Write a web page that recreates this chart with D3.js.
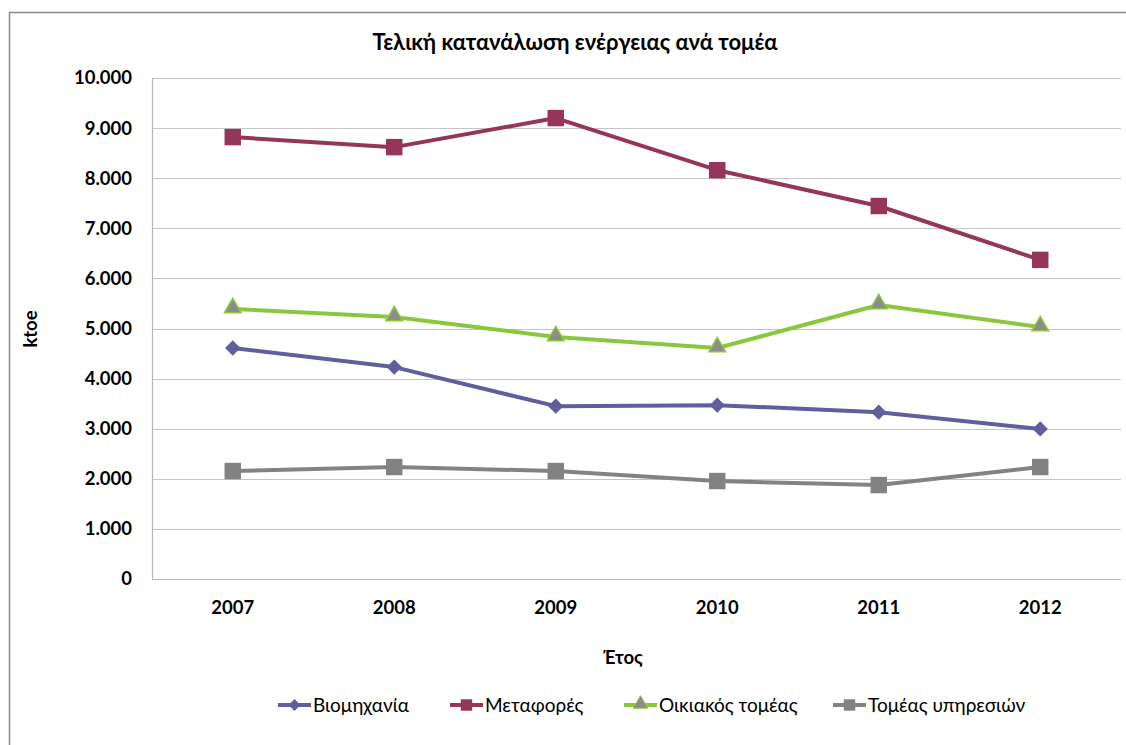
<!DOCTYPE html>
<html>
<head>
<meta charset="utf-8">
<script src="https://cdn.jsdelivr.net/npm/d3@7"></script>
<style>
  body { margin: 0; background: #fff; }
  text { font-family: Lato, "Noto Sans", sans-serif; fill: #000; }
</style>
</head>
<body>
<div class="chart"></div>
<script>
const years = ['2007', '2008', '2009', '2010', '2011', '2012'];
const industry = [4610, 4230, 3450, 3470, 3330, 2995];
const transport = [8820, 8620, 9200, 8160, 7445, 6370];
const household = [5390, 5230, 4830, 4610, 5470, 5030];
const services = [2155, 2235, 2155, 1955, 1875, 2235];
const yTicks = [0, 1000, 2000, 3000, 4000, 5000, 6000, 7000, 8000, 9000, 10000];

const series = [
  { name: 'Βιομηχανία', values: industry, color: '#605e9c', marker: 'diamond', fill: '#605e9c' },
  { name: 'Μεταφορές', values: transport, color: '#953559', marker: 'square', fill: '#953559' },
  { name: 'Οικιακός τομέας', values: household, color: '#8cc63e', marker: 'triangle', fill: '#8c8c8c' },
  { name: 'Τομέας υπηρεσιών', values: services, color: '#828282', marker: 'square', fill: '#828282' }
];

const width = 1126, height = 745;
const m = { left: 152, top: 78, right: 1121, bottom: 579 };

const svg = d3.select('.chart').append('svg')
  .attr('width', width).attr('height', height);

// outer chart frame
svg.append('path')
  .attr('d', `M9.5,${height} V12.5 H${width}`)
  .attr('fill', 'none').attr('stroke', '#8a8a8a').attr('stroke-width', 1.5);

const x = d3.scaleBand().domain(years).range([m.left, m.right]);
const y = d3.scaleLinear().domain([0, 10000]).range([m.bottom, m.top]);
const fmt = v => v === 0 ? '0' : d3.format(',')(v).replace(/,/g, '.');

// gridlines
svg.append('g').selectAll('line')
  .data(yTicks.filter(d => d > 0))
  .enter().append('line')
    .attr('x1', m.left).attr('x2', m.right)
    .attr('y1', d => Math.round(y(d)) + 0.5).attr('y2', d => Math.round(y(d)) + 0.5)
    .attr('stroke', '#c4c4c4').attr('stroke-width', 1.2);

// axes lines
svg.append('line')
  .attr('x1', m.left + 0.5).attr('x2', m.left + 0.5)
  .attr('y1', m.top).attr('y2', m.bottom)
  .attr('stroke', '#b8b8b8').attr('stroke-width', 1.2);
svg.append('line')
  .attr('x1', m.left).attr('x2', m.right)
  .attr('y1', m.bottom + 0.5).attr('y2', m.bottom + 0.5)
  .attr('stroke', '#b8b8b8').attr('stroke-width', 1.2);

// y tick labels
svg.append('g').selectAll('text')
  .data(yTicks)
  .enter().append('text')
    .attr('x', 132).attr('y', d => y(d))
    .attr('dy', '0.35em')
    .attr('text-anchor', 'end')
    .attr('font-size', 18.5).attr('font-weight', 'bold')
    .text(fmt);

// x tick labels
svg.append('g').selectAll('text')
  .data(years)
  .enter().append('text')
    .attr('x', d => x(d) + x.bandwidth() / 2).attr('y', 608)
    .attr('dy', '0.35em')
    .attr('text-anchor', 'middle')
    .attr('font-size', 18.5).attr('font-weight', 'bold')
    .text(d => d);

svg.append('text')
  .attr('x', 575).attr('y', 42).attr('dy', '0.35em')
  .attr('text-anchor', 'middle')
  .attr('font-size', 22).attr('font-weight', 'bold')
  .text('Τελική κατανάλωση ενέργειας ανά τομέα');

svg.append('text')
  .attr('transform', 'translate(31,329) rotate(-90)')
  .attr('dy', '0.35em')
  .attr('text-anchor', 'middle')
  .attr('font-size', 18.5).attr('font-weight', 'bold')
  .text('ktoe');

svg.append('text')
  .attr('x', 623).attr('y', 658).attr('dy', '0.35em')
  .attr('text-anchor', 'middle')
  .attr('font-size', 18.5).attr('font-weight', 'bold')
  .text('Έτος');

const symbols = {
  diamond: d3.symbol().type(d3.symbolDiamond2).size(150),
  square: d3.symbol().type(d3.symbolSquare).size(270),
  triangle: d3.symbol().type(d3.symbolTriangle).size(120)
};

const line = d3.line()
  .x((d, i) => x(years[i]) + x.bandwidth() / 2)
  .y(d => y(d));

series.forEach(s => {
  svg.append('path')
    .attr('d', line(s.values))
    .attr('fill', 'none')
    .attr('stroke', s.color).attr('stroke-width', 4)
    .attr('stroke-linejoin', 'round');

  svg.append('g').selectAll('path')
    .data(s.values)
    .enter().append('path')
      .attr('transform', (d, i) => `translate(${x(years[i]) + x.bandwidth() / 2},${y(d) - (s.marker === 'triangle' ? 1 : 0)})`)
      .attr('d', symbols[s.marker]())
      .attr('fill', s.fill)
      .attr('stroke', s.marker === 'triangle' ? s.color : 'none')
      .attr('stroke-width', 1.5);
});

// legend
const legendX = [278, 450, 624, 833];
const legend = svg.append('g').selectAll('g')
  .data(series)
  .enter().append('g')
    .attr('transform', (d, i) => `translate(${legendX[i]},705)`);

legend.append('line')
  .attr('x1', 0).attr('x2', 33)
  .attr('stroke', d => d.color).attr('stroke-width', 4);
legend.append('path')
  .attr('transform', d => `translate(16.5,${d.marker === 'triangle' ? -1 : 0})`)
  .attr('d', d => d3.symbol().type(
    d.marker === 'diamond' ? d3.symbolDiamond2 : d.marker === 'square' ? d3.symbolSquare : d3.symbolTriangle
  ).size(d.marker === 'square' ? 130 : 90)())
  .attr('fill', d => d.fill)
  .attr('stroke', d => d.marker === 'triangle' ? d.color : 'none');
legend.append('text')
  .attr('x', 35).attr('dy', '0.35em')
  .attr('font-size', 19)
  .text(d => d.name);
</script>
</body>
</html>
